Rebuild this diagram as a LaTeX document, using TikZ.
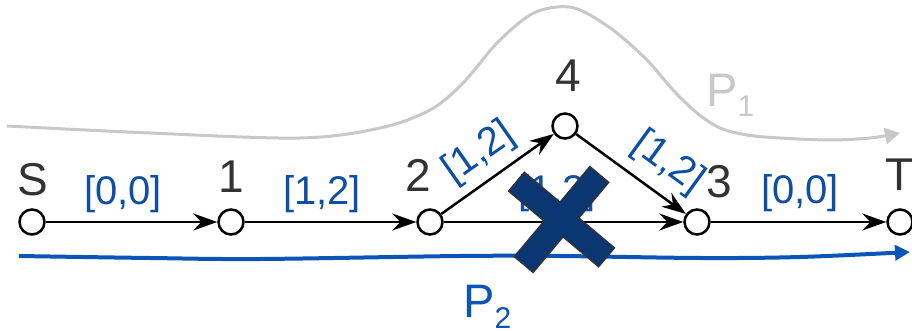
\documentclass[tikz,border=0pt]{standalone}
\usepackage{fontspec}
\setmainfont{Liberation Sans}
\usetikzlibrary{arrows.meta}
\definecolor{lblgray}{HTML}{333333}
\definecolor{edgeblue}{HTML}{0D4EA6}
\definecolor{ptwoblue}{HTML}{0A55B5}
\definecolor{ponegray}{HTML}{C8C8C8}
\definecolor{crossnavy}{HTML}{0A3772}
\definecolor{crossedge}{HTML}{333333}
\begin{document}
\begin{tikzpicture}[x=1pt,y=-1pt,
  vertex/.style={circle,draw=black,fill=white,line width=2.5pt,minimum size=25pt,inner sep=0pt},
  vlabel/.style={text=lblgray,font=\fontsize{46}{46}\selectfont,inner sep=0pt,anchor=base},
  elabel/.style={text=edgeblue,font=\fontsize{40}{40}\selectfont,inner sep=0pt},
  edgearrow/.style={draw=black,line width=2.5pt,-{Stealth[length=24pt,width=17pt,inset=8pt]}},
  pone/.style={draw=ponegray,line width=3pt,-{Triangle[length=15pt,width=16pt]}},
  ptwo/.style={draw=ptwoblue,line width=4pt,-{Triangle[length=15pt,width=15pt]}},
  xbar/.style={rectangle,minimum width=116pt,minimum height=23pt,inner sep=0pt},
]
\useasboundingbox (0,0) rectangle (912,331);
\clip (0,0) rectangle (912,331);

% P1 gray path
\coordinate (p1s) at (7,126);
\coordinate (p1e) at (900,133);
\draw[pone] plot[smooth,tension=0.55] coordinates {(p1s) (150,133) (300,138) (380,128) (430,110) (463,83) (497,43) (530,15) (557,7) (580,10) (613,30) (647,60) (673,90) (697,113) (720,128) (747,135) (780,138) (830,140) (870,138) (p1e)};
\node[anchor=base west,text=ponegray,font=\fontsize{47}{47}\selectfont,inner sep=0pt] (p1lab) at (706,107) {P\raisebox{-10pt}{\fontsize{30}{30}\selectfont 1}};

% vertices
\node[vertex] (S) at (32,222) {};
\node[vertex] (n1) at (231,222) {};
\node[vertex] (n2) at (430,222) {};
\node[vertex] (n4) at (565,126) {};
\node[vertex] (n3) at (697,222) {};
\node[vertex] (T) at (900,222) {};

% edges
\draw[edgearrow] (S) -- (n1);
\draw[edgearrow] (n1) -- (n2);
\draw[edgearrow] (n2) -- (n4);
\draw[edgearrow] (n4) -- (n3);
\draw[edgearrow] (n2) -- (n3);
\draw[edgearrow] (n3) -- (T);

% vertex labels
\node[vlabel] (lS) at (33,195) {S};
\node[vlabel] (l1) at (231,193) {1};
\node[vlabel] (l2) at (418,192) {2};
\node[vlabel] (l4) at (568,92) {4};
\node[vlabel] (l3) at (719,197) {3};
\node[vlabel] (lT) at (900,190) {T};

% edge labels
\node[elabel] (eS1) at (123,194) {[0,0]};
\node[elabel] (e12) at (322,194) {[1,2]};
\node[elabel] (e23) at (557,193) {[1,2]};
\node[elabel] (e3T) at (800,193) {[0,0]};
\node[elabel,rotate=35] (e24) at (479,153) {[1,2]};
\node[elabel,rotate=-36] (e43) at (668,163) {[1,2]};

% P2 blue path
\coordinate (p2s) at (19,256);
\coordinate (p2e) at (910,252);
\draw[ptwo] plot[smooth,tension=0.55] coordinates {(p2s) (150,258) (260,259) (460,256) (560,256) (700,258) (800,257) (p2e)};
\node[anchor=base west,text=ptwoblue,font=\fontsize{47}{47}\selectfont,inner sep=0pt] (p2lab) at (463,317) {P\raisebox{-11pt}{\fontsize{30}{30}\selectfont 2}};

% cross
\node[xbar,draw=crossedge,line width=3pt,rotate=-40] (xa) at (561.5,219.5) {};
\node[xbar,draw=crossedge,line width=3pt,rotate=50] (xb) at (561.5,219.5) {};
\node[xbar,fill=crossnavy,rotate=-40] (xa2) at (561.5,219.5) {};
\node[xbar,fill=crossnavy,rotate=50] (xb2) at (561.5,219.5) {};
\end{tikzpicture}
\end{document}
